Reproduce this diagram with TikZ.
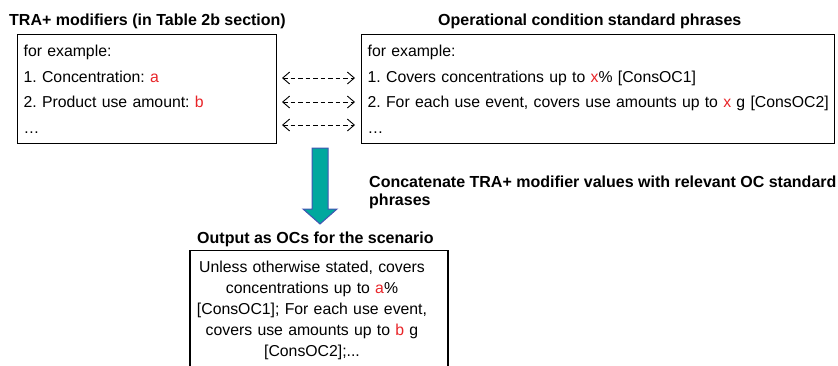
\documentclass[tikz,border=0pt]{standalone}
\usepackage{fontspec}
\setmainfont{Liberation Sans}
\usetikzlibrary{arrows.meta,positioning}
\definecolor{valred}{RGB}{232,36,40}
\definecolor{arrowteal}{RGB}{0,168,158}
\definecolor{arrowblue}{RGB}{66,84,178}
\newcommand{\val}[1]{\textcolor{valred}{#1}}

\begin{document}
\frenchspacing
\begin{tikzpicture}[x=1pt,y=-1pt,every node/.style={font=\fontsize{15.8}{25.7}\selectfont},box/.style={draw,line width=1.3pt,align=left,inner xsep=6pt,inner ysep=10.3pt,anchor=north west},ttl/.style={font=\fontsize{16}{18}\selectfont\bfseries,inner sep=0pt},darr/.style={dash pattern=on 4.5pt off 3pt,line width=0.9pt,{Straight Barb[length=7pt,width=12pt]}-{Straight Barb[length=7pt,width=12pt]}},bigarrow/.style={fill=arrowteal,draw=arrowblue,line width=1pt}]
\useasboundingbox (0,0) rectangle (838,365);
\node[ttl,anchor=base west] (modstitle) at (9,25) {TRA+ modifiers (in Table 2b section)};
\node[ttl,anchor=base west] (phrasestitle) at (438,25) {Operational condition standard phrases};
\node[box,text width=247pt] (mods) at (17,34) {for example:\\1. Concentration: \val{a}\\2. Product use amount: \val{b}\\…};
\node[box,text width=461pt] (phrases) at (361,34) {for example:\\1. Covers concentrations up to \val{x}\% [ConsOC1]\\\mbox{2. For each use event, covers use amounts up to \val{x} g [ConsOC2]}\\…};
% links between the two boxes
\coordinate (l1) at (282,78); \coordinate (r1) at (355,78);
\coordinate (l2) at (282,102); \coordinate (r2) at (355,102);
\coordinate (l3) at (282,125); \coordinate (r3) at (355,125);
\draw[darr] (l1)--(r1);\draw[darr] (l2)--(r2);\draw[darr] (l3)--(r3);
\draw[bigarrow] (312,148)--(328,148)--(328,209)--(337,209)--(320,224)--(303,209)--(312,209)--cycle;
\node[ttl,align=left,anchor=north west] (concat) at (369,175.2) {Concatenate TRA+ modifier values with relevant OC standard\\phrases};
\node[ttl,anchor=base west] (outtitle) at (197,243) {Output as OCs for the scenario};
\node[draw,line width=1.3pt,text width=246pt,inner xsep=6pt,inner ysep=10pt,anchor=north,font=\fontsize{15.8}{21}\selectfont] (output) at (319,250) {\parindent=0pt\leftskip=0pt plus 1fil\rightskip=14pt plus 1fil\parfillskip=0pt
Unless otherwise stated, covers\par concentrations up to \val{a}\%\par [ConsOC1]; For each use event,\par covers use amounts up to \val{b} g\par [ConsOC2];...\par};
\end{tikzpicture}
\end{document}
